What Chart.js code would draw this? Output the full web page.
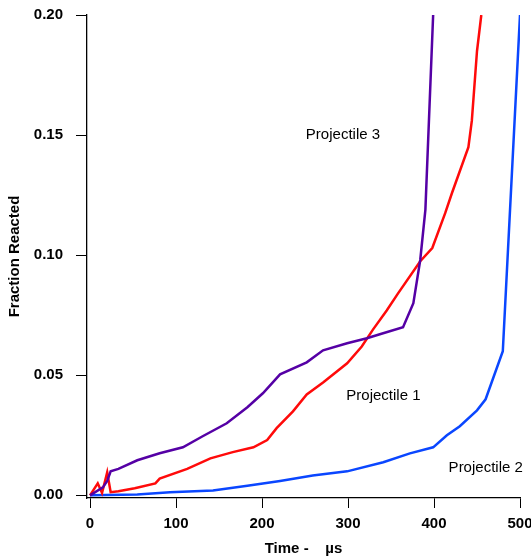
<!DOCTYPE html>
<html>
<head>
<meta charset="utf-8">
<script src="https://cdn.jsdelivr.net/npm/chart.js@4.4.0/dist/chart.umd.min.js"></script>
<style>
  html, body { margin: 0; padding: 0; background: #fff; }
  #wrap { width: 531px; height: 558px; }
</style>
</head>
<body>
<div id="wrap"><canvas id="chart" width="531" height="558"></canvas></div>
<script>
// values (time in µs, fraction reacted)
const proj3Time = [0, 15, 20, 24, 33, 55, 81, 108, 131, 159, 183, 201, 221, 252, 271, 299, 322, 337, 364, 376, 384, 390, 399];
const proj3Frac = [0, 0.0033, 0.006, 0.010, 0.011, 0.0146, 0.0175, 0.020, 0.0246, 0.030, 0.0367, 0.0425, 0.0504, 0.0554, 0.0604, 0.0633, 0.0654, 0.0671, 0.070, 0.080, 0.098, 0.119, 0.20];

const proj1Time = [0, 9, 14, 20, 24, 33, 52, 76, 81, 113, 140, 166, 190, 206, 217, 236, 252, 271, 299, 316, 329, 345, 358, 384, 398, 413, 421, 440, 444, 450, 455];
const proj1Frac = [0, 0.005, 0.001, 0.0096, 0.0013, 0.0017, 0.003, 0.005, 0.007, 0.011, 0.0154, 0.018, 0.020, 0.023, 0.028, 0.035, 0.042, 0.047, 0.055, 0.062, 0.069, 0.077, 0.084, 0.0975, 0.103, 0.1175, 0.126, 0.145, 0.156, 0.185, 0.20];

const proj2Time = [0, 55, 93, 143, 183, 221, 259, 299, 341, 372, 399, 415, 430, 450, 460, 480, 500];
const proj2Frac = [0, 0.0004, 0.0013, 0.002, 0.004, 0.006, 0.0083, 0.010, 0.0138, 0.0175, 0.020, 0.025, 0.0288, 0.0354, 0.040, 0.060, 0.20];

const xTicks = [0, 100, 200, 300, 400, 500];
const yTicks = [0, 0.05, 0.10, 0.15, 0.20];

const labels = [
    { text: 'Projectile 3', x: 251, y: 0.150 },
    { text: 'Projectile 1', x: 298, y: 0.0413 },
    { text: 'Projectile 2', x: 417, y: 0.01125 }
];

const FONT = '"Liberation Sans", Arial, sans-serif';

function pts(xs, ys) {
    return xs.map((x, i) => ({ x: x, y: ys[i] }));
}

function series(label, xs, ys, color) {
    return {
        label: label,
        data: pts(xs, ys),
        borderColor: color,
        backgroundColor: color,
        borderWidth: 2.5,
        pointRadius: 0,
        tension: 0,
        fill: false
    };
}

const textLabels = {
    id: 'textLabels',
    afterDatasetsDraw(chart) {
        const ctx = chart.ctx;
        const xs = chart.scales.x;
        const ys = chart.scales.y;
        ctx.save();
        ctx.fillStyle = '#000';
        ctx.font = '15px ' + FONT;
        ctx.textAlign = 'left';
        ctx.textBaseline = 'middle';
        labels.forEach(l => {
            ctx.fillText(l.text, xs.getPixelForValue(l.x), ys.getPixelForValue(l.y));
        });
        ctx.restore();
    }
};

new Chart(document.getElementById('chart'), {
    type: 'line',
    data: {
        datasets: [
            series('Projectile 3', proj3Time, proj3Frac, '#5500a5'),
            series('Projectile 1', proj1Time, proj1Frac, '#ff0a0a'),
            series('Projectile 2', proj2Time, proj2Frac, '#0a46ff')
        ]
    },
    options: {
        responsive: false,
        animation: false,
        layout: { padding: { top: 15, right: 11, left: 0, bottom: 0 } },
        plugins: {
            legend: { display: false },
            tooltip: { enabled: false }
        },
        scales: {
            x: {
                type: 'linear',
                min: -3.5,
                max: 500,
                afterBuildTicks: s => { s.ticks = xTicks.map(v => ({ value: v })); },
                afterFit: s => { s.height = 60; s.paddingLeft = 0; s.paddingRight = 0; },
                grid: { drawOnChartArea: false, drawTicks: true, tickLength: 10, tickColor: '#000', lineWidth: 1 },
                border: { color: '#000', width: 1.3 },
                ticks: {
                    color: '#000',
                    padding: 7,
                    maxRotation: 0,
                    font: { family: FONT, size: 15, weight: 'bold' },
                    callback: v => String(v)
                },
                title: {
                    display: true,
                    text: 'Time -    µs',
                    color: '#000',
                    padding: { top: 1, bottom: 0 },
                    font: { family: FONT, size: 15, weight: 'bold' }
                }
            },
            y: {
                min: -0.0011,
                max: 0.20,
                afterBuildTicks: s => { s.ticks = yTicks.map(v => ({ value: v })); },
                afterFit: s => { s.width = 87; s.paddingTop = 0; s.paddingBottom = 0; },
                grid: { drawOnChartArea: false, drawTicks: true, tickLength: 11, tickColor: '#000', lineWidth: 1 },
                border: { color: '#000', width: 1.3 },
                ticks: {
                    color: '#000',
                    padding: 13,
                    font: { family: FONT, size: 15, weight: 'bold' },
                    callback: v => v.toFixed(2)
                },
                title: {
                    display: true,
                    text: 'Fraction Reacted',
                    color: '#000',
                    padding: { top: 6, bottom: 0 },
                    font: { family: FONT, size: 15, weight: 'bold' }
                }
            }
        }
    },
    plugins: [textLabels]
});
</script>
</body>
</html>
